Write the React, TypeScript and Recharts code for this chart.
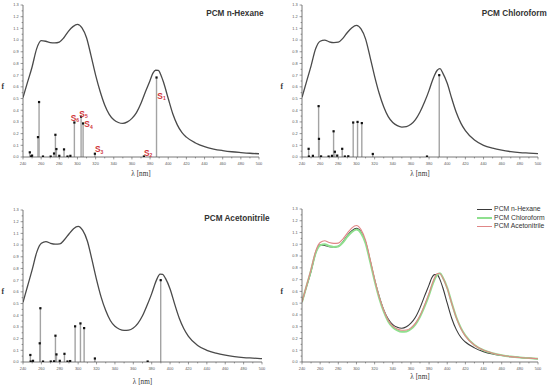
import React from "react";
import { ComposedChart, Line, Scatter, XAxis, YAxis, ReferenceLine, Legend } from "recharts";

// wavelength grid (nm) used by the three simulated spectra
const GRID_NM = [
  240, 245, 250, 255, 260, 265, 270, 275, 280, 285, 290, 295, 300, 305, 310, 315, 320, 325, 330,
  335, 340, 345, 350, 355, 360, 365, 370, 375, 380, 383, 386, 389, 392, 395, 400, 405, 410, 415,
  420, 430, 440, 450, 460, 470, 480, 490, 500,
];
const HEXANE_F = [
  0.508, 0.64, 0.77, 0.925, 0.995, 0.99, 0.979, 0.976, 0.983, 1.02, 1.075, 1.115, 1.135, 1.105,
  1.02, 0.865, 0.7, 0.56, 0.445, 0.365, 0.318, 0.295, 0.287, 0.3, 0.33, 0.38, 0.46, 0.56, 0.655,
  0.715, 0.742, 0.74, 0.7, 0.635, 0.5, 0.37, 0.275, 0.21, 0.17, 0.12, 0.088, 0.068, 0.055, 0.045,
  0.038, 0.032, 0.028,
];
const CHLOROFORM_F = [
  0.51, 0.645, 0.78, 0.925, 0.99, 1.0, 0.985, 0.978, 0.982, 1.015, 1.065, 1.105, 1.125, 1.095,
  1.01, 0.855, 0.69, 0.545, 0.43, 0.345, 0.295, 0.268, 0.256, 0.26, 0.28, 0.32, 0.385, 0.47, 0.57,
  0.64, 0.7, 0.742, 0.755, 0.72, 0.63, 0.5, 0.38, 0.29, 0.225, 0.145, 0.1, 0.075, 0.058, 0.046,
  0.038, 0.033, 0.028,
];
const ACETONITRILE_F = [
  0.51, 0.65, 0.79, 0.94, 1.015, 1.03, 1.015, 1.008, 1.01, 1.045, 1.095, 1.14, 1.16, 1.125, 1.035,
  0.875, 0.705, 0.555, 0.44, 0.355, 0.305, 0.28, 0.27, 0.272, 0.29, 0.33, 0.395, 0.485, 0.585,
  0.655, 0.715, 0.752, 0.75, 0.715, 0.625, 0.495, 0.375, 0.285, 0.22, 0.142, 0.1, 0.075, 0.058,
  0.046, 0.038, 0.033, 0.028,
];

// computed transitions (stick spectra)
const HEXANE_STICK_NM = [247.5, 249, 250, 256.5, 257.7, 262, 270.5, 274.2, 275.7, 276.8, 280, 285.2, 289, 292.2, 296.6, 304, 306.2, 319.2, 373.2, 387.1];
const HEXANE_STICK_F = [0.04, 0.005, 0.012, 0.17, 0.47, 0.004, 0.004, 0.03, 0.19, 0.068, 0.01, 0.065, 0.004, 0.01, 0.295, 0.345, 0.287, 0.028, 0.004, 0.68];
const CHLOROFORM_STICK_NM = [247.3, 247.6, 252, 258.3, 258.7, 261, 269.3, 273, 274.8, 276.2, 278.8, 284.3, 287.2, 291, 296.4, 301.2, 305.9, 318, 377.7, 391.2];
const CHLOROFORM_STICK_F = [0.07, 0.004, 0.01, 0.435, 0.155, 0.005, 0.004, 0.01, 0.22, 0.045, 0.012, 0.07, 0.004, 0.006, 0.295, 0.3, 0.29, 0.026, 0.004, 0.7];
const ACETONITRILE_STICK_NM = [248, 248.4, 250.9, 258.2, 258.9, 261.8, 270.2, 273.8, 275.3, 276.4, 280, 285.1, 288.4, 291.3, 296.7, 302.5, 306.5, 318.2, 375.6, 389.8];
const ACETONITRILE_STICK_F = [0.06, 0.004, 0.01, 0.16, 0.46, 0.004, 0.004, 0.006, 0.225, 0.065, 0.01, 0.07, 0.004, 0.008, 0.305, 0.33, 0.29, 0.03, 0.004, 0.7];

// state labels in the n-hexane panel (anchor = left/baseline of the "S")
const STATE_NAMES = ["1", "2", "3", "4", "5", "6"];
const STATE_NM = [388, 373.3, 319.3, 307.6, 302.1, 292.5];
const STATE_F = [0.5, 0.011, 0.04, 0.255, 0.343, 0.309];

const SOLVENTS = ["PCM n-Hexane", "PCM Chloroform", "PCM Acetonitrile"];

const X_TICKS = [240, 250, 260, 270, 280, 290, 300, 310, 320, 330, 340, 350, 360, 370, 380, 390, 400, 410, 420, 430, 440, 450, 460, 470, 480, 490, 500];
const Y_TICKS = [0, 0.05, 0.1, 0.15, 0.2, 0.25, 0.3, 0.35, 0.4, 0.45, 0.5, 0.55, 0.6, 0.65, 0.7, 0.75, 0.8, 0.85, 0.9, 0.95, 1.0, 1.05, 1.1, 1.15, 1.2, 1.25, 1.3];

const SANS = "'Liberation Sans', Arial, sans-serif";
const SERIF = "'Liberation Serif', 'Times New Roman', serif";
const AXIS = "#555";
const CURVE = "#4a4a4a";

type Pt = { x: number; f: number };
const toPoints = (xs: number[], ys: number[]): Pt[] => xs.map((x, i) => ({ x, f: ys[i] }));

const hexane = toPoints(GRID_NM, HEXANE_F);
const chloroform = toPoints(GRID_NM, CHLOROFORM_F);
const acetonitrile = toPoints(GRID_NM, ACETONITRILE_F);
const states = STATE_NM.map((x, i) => ({ x, f: STATE_F[i], n: STATE_NAMES[i] }));

const XTick = (props: any) => {
  const { x, y, payload } = props;
  const major = payload.value % 20 === 0;
  return (
    <g>
      <line x1={x} x2={x} y1={y} y2={y + (major ? 2.4 : 1.4)} stroke={AXIS} strokeWidth={0.6} />
      {major && (
        <text x={x} y={y + 8.3} textAnchor="middle" fontSize={3.9} fontFamily={SANS} fill="#555">
          {payload.value}
        </text>
      )}
    </g>
  );
};

const YTick = (props: any) => {
  const { x, y, payload } = props;
  const v = payload.value;
  const major = Math.abs(v * 10 - Math.round(v * 10)) < 1e-6;
  return (
    <g>
      <line x1={x} x2={x - (major ? 2.4 : 1.4)} y1={y} y2={y} stroke={AXIS} strokeWidth={0.6} />
      {major && (
        <text x={x - 4.3} y={y + 1.4} textAnchor="end" fontSize={3.9} fontFamily={SANS} fill="#555">
          {v.toFixed(1)}
        </text>
      )}
    </g>
  );
};

const StickDot = (p: any) => <rect x={p.cx - 1.1} y={p.cy - 1.1} width={2.2} height={2.2} fill="#111" />;

const StateLabel = (p: any) => (
  <text x={p.cx} y={p.cy} fontSize={8.4} fontWeight="bold" fontFamily={SANS} fill="#d0373b">
    S
    <tspan fontSize={5} dy={1.6}>
      {p.payload.n}
    </tspan>
  </text>
);

type Curve = { name: string; data: Pt[]; color: string; width: number };

type PanelProps = {
  left: number;
  top: number;
  margin: { top: number; right: number; bottom: number; left: number };
  curves: Curve[];
  sticks?: Pt[];
  labels?: boolean;
  title?: string;
  titleRight?: number;
  titleTop?: number;
  xLabelOffset: number;
  legend?: boolean;
};

function Panel({ left, top, margin, curves, sticks, labels, title, titleRight, titleTop, xLabelOffset, legend }: PanelProps) {
  return (
    <div style={{ position: "absolute", left, top, width: 275, height: 194 }}>
      <ComposedChart width={275} height={194} margin={margin}>
        <XAxis
          type="number"
          dataKey="x"
          domain={[240, 500]}
          ticks={X_TICKS}
          interval={0}
          allowDataOverflow
          height={24}
          tickSize={0}
          tickMargin={0}
          tickLine={false}
          tick={<XTick />}
          axisLine={{ stroke: AXIS, strokeWidth: 0.8 }}
          label={{ value: "λ [nm]", position: "insideBottom", offset: xLabelOffset, fontSize: 7.2, fontFamily: SERIF, fill: "#333" }}
        />
        <YAxis
          type="number"
          dataKey="f"
          domain={[0, 1.3]}
          ticks={Y_TICKS}
          interval={0}
          allowDataOverflow
          width={22}
          tickSize={0}
          tickMargin={0}
          tickLine={false}
          tick={<YTick />}
          axisLine={{ stroke: AXIS, strokeWidth: 0.8 }}
          label={{
            position: "insideLeft",
            content: ({ viewBox }: any) => (
              <text x={viewBox.x + 0.5} y={viewBox.y + viewBox.height / 2 + 8} fontSize={7.5} fontWeight="bold" fontFamily={SERIF} fill="#333">
                f
              </text>
            ),
          }}
        />
        {sticks &&
          sticks.map((s, i) => (
            <ReferenceLine
              key={i}
              segment={[{ x: s.x, y: 0 }, { x: s.x, y: s.f }]}
              stroke="#a3a3a3"
              strokeWidth={1.4}
            />
          ))}
        {curves.map((c) => (
          <Line
            key={c.name}
            name={c.name}
            data={c.data}
            dataKey="f"
            type="monotone"
            stroke={c.color}
            strokeWidth={c.width}
            dot={false}
            isAnimationActive={false}
          />
        ))}
        {sticks && <Scatter data={sticks} dataKey="f" shape={StickDot} isAnimationActive={false} />}
        {labels && <Scatter data={states} dataKey="f" shape={StateLabel} isAnimationActive={false} />}
        {legend && (
          <Legend
            layout="vertical"
            align="center"
            verticalAlign="middle"
            wrapperStyle={{ position: "absolute", left: 201.5, top: 11.3, width: 80 }}
            content={() => (
              <div style={{ fontFamily: SANS, fontSize: 6.8, color: "#333" }}>
                {curves.map((c) => (
                  <div key={c.name} style={{ display: "flex", alignItems: "center", height: 8.6 }}>
                    <span style={{ display: "inline-block", width: 15, borderTop: `${c.width}px solid ${c.color}`, marginRight: 2.6 }} />
                    <span style={{ lineHeight: "8.6px", whiteSpace: "nowrap" }}>{c.name}</span>
                  </div>
                ))}
              </div>
            )}
          />
        )}
      </ComposedChart>
      {title && (
        <div
          style={{
            position: "absolute",
            top: titleTop,
            left: 0,
            width: titleRight,
            textAlign: "right",
            fontFamily: SANS,
            fontWeight: "bold",
            fontSize: 8.2,
            lineHeight: "10px",
            color: "#333",
            whiteSpace: "nowrap",
          }}
        >
          {title}
        </div>
      )}
    </div>
  );
}

export default function App() {
  return (
    <div style={{ position: "absolute", left: 0, top: 0, width: 550, height: 388, background: "#fff", overflow: "hidden" }}>
      <Panel
        left={0}
        top={0}
        margin={{ top: 5, right: 16, bottom: 13, left: 1 }}
        curves={[{ name: SOLVENTS[0], data: hexane, color: CURVE, width: 1.3 }]}
        sticks={toPoints(HEXANE_STICK_NM, HEXANE_STICK_F)}
        labels
        title={SOLVENTS[0]}
        titleRight={263.5}
        titleTop={9.1}
        xLabelOffset={5.5}
      />
      <Panel
        left={275}
        top={0}
        margin={{ top: 5, right: 12, bottom: 13, left: 5 }}
        curves={[{ name: SOLVENTS[1], data: chloroform, color: CURVE, width: 1.3 }]}
        sticks={toPoints(CHLOROFORM_STICK_NM, CHLOROFORM_STICK_F)}
        title={SOLVENTS[1]}
        titleRight={271.8}
        titleTop={8.8}
        xLabelOffset={5.5}
      />
      <Panel
        left={0}
        top={194}
        margin={{ top: 16, right: 13, bottom: 2, left: 1 }}
        curves={[{ name: SOLVENTS[2], data: acetonitrile, color: CURVE, width: 1.3 }]}
        sticks={toPoints(ACETONITRILE_STICK_NM, ACETONITRILE_STICK_F)}
        title={SOLVENTS[2]}
        titleRight={269.5}
        titleTop={20.1}
        xLabelOffset={2.5}
      />
      <Panel
        left={275}
        top={194}
        margin={{ top: 15, right: 12, bottom: 2, left: 5 }}
        curves={[
          { name: SOLVENTS[0], data: hexane, color: "#3a3a3a", width: 1.1 },
          { name: SOLVENTS[1], data: chloroform, color: "#8fe08f", width: 2 },
          { name: SOLVENTS[2], data: acetonitrile, color: "#e08787", width: 1.1 },
        ]}
        xLabelOffset={7}
        legend
      />
    </div>
  );
}
